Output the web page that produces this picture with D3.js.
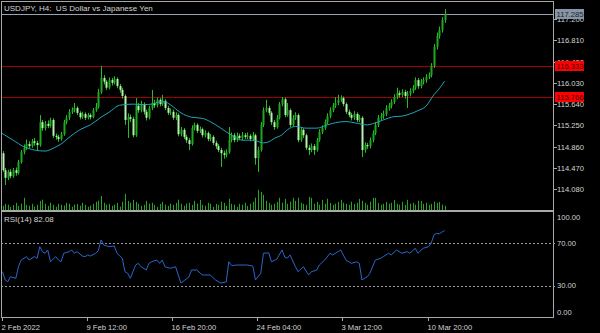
<!DOCTYPE html>
<html>
<head>
<meta charset="utf-8">
<script src="https://cdn.jsdelivr.net/npm/d3@7"></script>
<style>
  html, body { margin: 0; padding: 0; background: #000; }
  svg { display: block; font-family: "Liberation Sans", Arial, sans-serif; }
</style>
</head>
<body>
<svg id="chart" width="600" height="333"></svg>
<script>
// USDJPY H4
const symbolTitle = "USDJPY, H4:  US Dollar vs Japanese Yen";
const rsiTitle = "RSI(14) 82.08";

const firstOpen = 114.74;
const closes = [
  114.43,114.29,114.40,114.32,114.43,114.38,114.58,114.76,114.84,114.91,
  114.87,114.96,114.93,114.89,115.31,115.20,115.28,115.24,115.35,115.06,
  115.04,115.00,115.09,115.31,115.39,115.50,115.53,115.57,115.48,115.40,
  115.46,115.39,115.44,115.40,115.53,115.59,115.86,116.12,116.05,115.94,
  116.08,116.03,116.10,115.97,115.90,115.79,115.35,115.40,115.37,115.07,
  115.61,115.53,115.64,115.50,115.39,115.57,115.66,115.62,115.72,115.64,
  115.70,115.57,115.48,115.50,115.39,115.44,115.09,115.17,115.04,114.98,
  114.91,115.20,115.26,115.15,115.18,115.07,115.11,115.00,115.04,114.93,
  114.87,114.80,114.74,114.71,114.76,114.98,115.07,114.98,115.06,115.02,
  115.07,115.04,115.06,115.00,115.07,114.65,114.80,115.26,115.53,115.57,
  115.48,115.31,115.22,115.39,115.64,115.73,115.44,115.53,115.26,115.39,
  115.44,114.98,115.17,115.07,114.84,114.80,114.87,114.80,114.98,115.13,
  115.20,115.31,115.42,115.53,115.61,115.66,115.72,115.75,115.64,115.50,
  115.44,115.39,115.46,115.35,115.39,114.80,114.89,114.87,114.98,115.11,
  115.26,115.39,115.42,115.46,115.57,115.61,115.68,115.77,115.84,115.81,
  115.86,115.79,115.83,115.88,115.94,116.08,115.97,116.05,116.08,116.14,
  116.17,116.34,116.69,116.89,117.00,117.18,117.285
];
const highs = [
  114.78,114.47,114.44,114.45,114.47,114.48,114.62,114.80,114.90,114.99,
  114.96,115.00,115.02,114.97,115.44,115.35,115.33,115.34,115.39,115.38,
  115.10,115.08,115.13,115.35,115.44,115.55,115.58,115.66,115.60,115.51,
  115.50,115.49,115.48,115.47,115.57,115.66,115.92,116.34,116.17,116.08,
  116.13,116.12,116.15,116.13,116.01,115.94,115.82,115.47,115.45,115.41,
  115.75,115.66,115.70,115.67,115.54,115.61,115.90,115.72,115.76,115.75,
  115.81,115.73,115.61,115.56,115.54,115.49,115.47,115.22,115.20,115.08,
  115.02,115.25,115.30,115.29,115.23,115.21,115.16,115.14,115.09,115.07,
  114.97,114.91,114.84,114.79,114.81,115.22,115.12,115.11,115.12,115.10,
  115.13,115.11,115.12,115.09,115.13,115.10,114.86,115.31,115.58,115.72,
  115.61,115.51,115.35,115.44,115.68,115.77,115.76,115.66,115.56,115.44,
  115.49,115.47,115.22,115.20,115.10,114.89,114.92,114.91,115.02,115.18,
  115.25,115.36,115.47,115.58,115.66,115.77,115.81,115.80,115.78,115.67,
  115.54,115.48,115.51,115.49,115.44,115.42,114.94,114.93,115.03,115.16,
  115.31,115.44,115.48,115.52,115.62,115.66,115.73,115.82,115.94,115.89,
  115.91,115.90,115.88,115.93,115.99,116.13,116.12,116.10,116.13,116.19,
  116.22,116.39,116.74,116.95,117.06,117.23,117.38
];
const lows = [
  114.40,114.16,114.25,114.28,114.29,114.33,114.35,114.55,114.72,114.80,
  114.83,114.84,114.88,114.80,114.86,115.15,115.16,115.20,115.21,115.02,
  114.99,114.95,114.97,115.06,115.27,115.35,115.46,115.49,115.44,115.36,
  115.37,115.35,115.36,115.36,115.38,115.50,115.56,115.83,116.00,115.90,
  115.91,115.98,116.00,115.93,115.85,115.74,115.26,115.02,115.31,115.03,
  115.04,115.48,115.49,115.45,115.34,115.36,115.53,115.57,115.58,115.60,
  115.61,115.53,115.44,115.44,115.35,115.35,115.05,115.05,115.00,114.93,
  114.80,114.88,115.16,115.11,115.11,115.03,115.03,114.96,114.96,114.89,
  114.82,114.76,114.49,114.64,114.66,114.73,114.94,114.94,114.95,114.98,
  114.98,115.00,115.00,114.96,114.97,114.53,114.40,114.77,115.22,115.49,
  115.43,115.26,115.17,115.19,115.36,115.60,115.40,115.41,115.22,115.23,
  115.35,114.94,114.95,115.02,114.80,114.71,114.76,114.71,114.77,114.95,
  115.09,115.17,115.27,115.38,115.49,115.57,115.62,115.68,115.60,115.46,
  115.40,115.34,115.35,115.31,115.31,114.67,114.75,114.82,114.83,114.94,
  115.07,115.22,115.35,115.37,115.42,115.52,115.56,115.64,115.73,115.76,
  115.77,115.74,115.57,115.78,115.84,115.90,115.92,115.93,116.00,116.03,
  116.10,116.13,116.30,116.64,116.84,116.95,117.13
];
// tick volume
const volumes = [
  4200,6100,5300,3100,4800,7200,4100,6300,12200,5100,
  4300,6200,3400,5200,9100,10300,6200,4100,7300,5200,
  3300,6100,5200,4400,7100,6200,3300,5400,6100,4300,
  7200,5100,3200,4300,6100,8200,9300,14100,7200,5300,
  6100,4200,5300,7100,3400,8200,16200,9100,7300,10200,
  8100,6200,4300,5200,9100,6300,7200,5100,3200,6100,
  8200,5300,4100,6300,5200,7100,10300,6200,4100,6300,
  7200,5100,9200,6300,10100,5200,4300,7100,6200,3300,
  6100,5200,8300,7100,4200,11200,6100,5300,3200,6100,
  5300,7200,4100,6300,8200,12300,20200,18100,15200,9300,
  7100,5200,6300,8100,12200,7300,11100,6200,8300,12100,
  9200,12300,7100,6200,5300,13100,12200,6300,8100,5200,
  10100,6300,11200,7100,5200,6300,8100,10200,7300,6100,
  5200,8300,6100,7200,11100,9300,7100,5200,8300,12100,
  12200,7100,5300,6200,8100,6300,7200,10100,6200,5300,
  8200,5100,10200,6300,7100,5200,9300,9100,6200,7300,
  5200,6100,8300,7200,8100,5300,4200
];

// moving average (cyan), sampled at bar indices
const maBars = [-1,4,8,12,16,19,22,25,29,33,37,40,44,49,53,56,59,61,63,67,71,75,78,82,86,90,93,95,98,100,102,105,107,110,114,118,122,125,129,133,137,139,143,147,150,153,156,159,162,164,166];
const maValues = [115.13,114.98,114.86,114.80,114.78,114.83,114.91,115.03,115.17,115.26,115.40,115.49,115.62,115.64,115.63,115.64,115.68,115.68,115.63,115.48,115.40,115.38,115.32,115.20,115.07,114.98,114.98,114.97,114.93,114.95,115.01,115.08,115.17,115.23,115.20,115.20,115.26,115.30,115.32,115.29,115.26,115.28,115.35,115.41,115.42,115.46,115.52,115.60,115.81,115.92,116.06];

// RSI(14), sampled at bar indices
const rsiBars = [0,1,2,3,5,6,7,9,10,12,13,14,15,16,17,18,20,21,22,23,25,26,27,28,30,31,32,33,35,36,37,38,40,42,43,45,46,47,48,50,51,52,54,55,56,58,59,60,61,63,65,67,70,71,73,75,78,80,82,84,85,86,88,91,92,94,95,97,98,100,101,103,105,106,107,108,110,111,113,115,116,118,119,121,123,124,127,129,131,133,134,135,137,138,140,142,143,145,146,148,150,152,153,155,156,158,160,161,162,163,164,165,166];
const rsiValues = [43.2,35.4,33.8,38.5,37.0,47.9,54.2,57.4,54.2,57.4,55.8,66.8,62.1,60.6,63.7,52.6,57.4,54.2,52.6,60.6,62.1,63.7,60.6,62.1,58.0,57.4,59.0,58.0,60.6,63.0,73.1,68.4,66.8,67.5,60.6,55.8,43.2,41.7,37.0,49.5,51.1,47.9,44.8,51.1,52.6,54.2,51.1,54.2,47.9,46.4,47.9,32.5,38.2,44.8,44.8,40.1,40.1,35.4,32.5,33.5,52.6,49.0,49.5,49.5,49.5,48.5,35.4,41.7,60.6,61.0,52.6,55.0,63.7,57.0,56.0,59.0,47.9,43.2,47.9,40.1,43.2,44.8,49.5,54.2,60.6,59.0,63.7,54.2,51.1,52.6,51.1,35.4,38.5,41.7,54.2,55.8,57.4,60.6,59.0,63.7,60.6,62.1,60.6,65.3,60.6,65.3,66.8,70.0,77.8,79.4,78.9,80.5,82.08];

const priceTicks = [114.080, 114.470, 114.860, 115.250, 115.640, 116.030, 116.420, 116.810, 117.200];
const levelLines = [116.333, 115.766];
const lastPrice = 117.285;
const rsiTicks = [100, 70, 30, 0];
const rsiLevels = [70, 30];
const timeBars = [0, 32, 64, 96, 128, 160];
const timeLabels = ["2 Feb 2022", "9 Feb 12:00", "16 Feb 20:00", "24 Feb 04:00", "3 Mar 12:00", "10 Mar 20:00"];

// layout
const plotLeft = 1, plotRight = 553;
const mainTop = 1, mainBottom = 210;
const rsiTop = 212, rsiBottom = 317;
const frameColor = "#a8a8a8";
const textColor = "#d4d4d4";

const svg = d3.select("#chart");

const x = d3.scaleLinear().domain([0, 166]).range([2.5, 444.5]);
const y = d3.scaleLinear().domain([114.08, 117.285]).range([189.3, 14.3]);
const yVol = d3.scaleLinear().domain([0, 30000]).range([mainBottom, mainBottom - 30]);
const yRsi = d3.scaleLinear().domain([0, 100]).range([317.5, 211.5]);

svg.append("rect").attr("width", 600).attr("height", 333).attr("fill", "#000");

const defs = svg.append("defs");
defs.append("clipPath").attr("id", "clipMain").append("rect")
  .attr("x", plotLeft + 0.5).attr("y", mainTop).attr("width", plotRight - plotLeft - 0.5).attr("height", mainBottom - mainTop);
defs.append("clipPath").attr("id", "clipRsi").append("rect")
  .attr("x", plotLeft + 0.5).attr("y", rsiTop).attr("width", plotRight - plotLeft - 0.5).attr("height", rsiBottom - rsiTop);

const bars = closes.map((c, i) => ({
  i: i,
  open: i === 0 ? firstOpen : closes[i - 1],
  close: c,
  high: highs[i],
  low: lows[i],
  volume: volumes[i]
}));

// ---- main panel ----
const main = svg.append("g").attr("clip-path", "url(#clipMain)");

// support / resistance lines
main.selectAll("line.level")
  .data(levelLines)
  .enter().append("line")
  .attr("x1", 0).attr("x2", plotRight)
  .attr("y1", d => Math.round(y(d)) + 0.5).attr("y2", d => Math.round(y(d)) + 0.5)
  .attr("stroke", "#a00000").attr("stroke-width", 1);

// bid line
main.append("line")
  .attr("x1", 0).attr("x2", plotRight)
  .attr("y1", Math.round(y(lastPrice)) + 0.5).attr("y2", Math.round(y(lastPrice)) + 0.5)
  .attr("stroke", "#9aa4b0").attr("stroke-width", 1);

// volumes
main.selectAll("line.vol")
  .data(bars)
  .enter().append("line")
  .attr("x1", d => Math.round(x(d.i)) + 0.5).attr("x2", d => Math.round(x(d.i)) + 0.5)
  .attr("y1", mainBottom).attr("y2", d => yVol(d.volume))
  .attr("stroke", "#26a426").attr("stroke-width", 1);

// candles
const candle = main.selectAll("g.candle")
  .data(bars)
  .enter().append("g");

candle.append("line")
  .attr("x1", d => Math.round(x(d.i)) + 0.5).attr("x2", d => Math.round(x(d.i)) + 0.5)
  .attr("y1", d => y(d.high)).attr("y2", d => y(d.low))
  .attr("stroke", "#22c022").attr("stroke-width", 1);

candle.append("rect")
  .attr("x", d => Math.round(x(d.i)) - 0.5)
  .attr("width", 2)
  .attr("y", d => y(Math.max(d.open, d.close)))
  .attr("height", d => Math.max(1, Math.abs(y(d.open) - y(d.close))))
  .attr("fill", d => d.close >= d.open ? "#1fa81f" : "#b4f4aa");

// moving average
const maPts = maBars.map((b, k) => [b, maValues[k]]);
main.append("path")
  .datum(maPts)
  .attr("d", d3.line().x(d => x(d[0])).y(d => y(d[1])).curve(d3.curveMonotoneX))
  .attr("fill", "none").attr("stroke", "#1fa6b6").attr("stroke-width", 1);

// title
svg.append("text")
  .attr("x", 4).attr("y", 11)
  .attr("fill", textColor).attr("font-size", 8)
  .style("white-space", "pre")
  .text(symbolTitle);

// ---- RSI panel ----
const rsiG = svg.append("g").attr("clip-path", "url(#clipRsi)");

rsiG.selectAll("line.lvl")
  .data(rsiLevels)
  .enter().append("line")
  .attr("x1", plotLeft).attr("x2", plotRight)
  .attr("y1", d => Math.round(yRsi(d)) + 0.5).attr("y2", d => Math.round(yRsi(d)) + 0.5)
  .attr("stroke", "#9a9a9a").attr("stroke-dasharray", "2,2");

const rsiPts = rsiBars.map((b, k) => [b, rsiValues[k]]);
rsiG.append("path")
  .datum(rsiPts)
  .attr("d", d3.line().x(d => x(d[0])).y(d => yRsi(d[1])))
  .attr("fill", "none").attr("stroke", "#2a66cc").attr("stroke-width", 1);

svg.append("text")
  .attr("x", 4).attr("y", 222)
  .attr("fill", textColor).attr("font-size", 8)
  .text(rsiTitle);

// ---- frames ----
svg.append("line").attr("x1", plotLeft + 0.5).attr("x2", plotLeft + 0.5).attr("y1", mainTop).attr("y2", rsiBottom)
  .attr("stroke", frameColor);
svg.append("line").attr("x1", plotRight + 0.5).attr("x2", plotRight + 0.5).attr("y1", mainTop).attr("y2", rsiBottom + 0.5)
  .attr("stroke", frameColor);
svg.append("line").attr("x1", plotLeft).attr("x2", plotRight + 1).attr("y1", mainTop + 0.5).attr("y2", mainTop + 0.5)
  .attr("stroke", frameColor);
svg.append("rect").attr("x", plotLeft).attr("y", mainBottom).attr("width", plotRight - plotLeft + 1).attr("height", 2)
  .attr("fill", frameColor);
svg.append("line").attr("x1", plotLeft).attr("x2", plotRight + 1).attr("y1", rsiBottom + 0.5).attr("y2", rsiBottom + 0.5)
  .attr("stroke", frameColor);

// ---- price axis ----
const axisG = svg.append("g");
priceTicks.forEach(v => {
  const py = Math.round(y(v)) + 0.5;
  axisG.append("line").attr("x1", plotRight).attr("x2", plotRight + 4).attr("y1", py).attr("y2", py).attr("stroke", frameColor);
  axisG.append("text").attr("x", plotRight + 4).attr("y", py).attr("dy", "0.35em")
    .attr("fill", textColor).attr("font-size", 7.6).text(v.toFixed(3));
});

// price boxes (drawn over the tick labels they cover, as in the terminal)
function priceBox(v, bg, fg) {
  const py = Math.round(y(v));
  axisG.append("rect").attr("x", plotRight + 2).attr("y", py - 5).attr("width", 29).attr("height", 10).attr("fill", bg);
  axisG.append("text").attr("x", plotRight + 3.5).attr("y", py).attr("dy", "0.36em")
    .attr("fill", fg).attr("font-size", 7.6).text(v.toFixed(3));
}
priceBox(lastPrice, "#8796a6", "#1c2430");
levelLines.forEach(v => priceBox(v, "#ff0000", "#3a0000"));

// RSI axis
rsiTicks.forEach(v => {
  const ry = Math.min(Math.max(yRsi(v), rsiTop + 5), rsiBottom - 5);
  if (v !== 0 && v !== 100) {
    axisG.append("line").attr("x1", plotRight).attr("x2", plotRight + 4)
      .attr("y1", Math.round(yRsi(v)) + 0.5).attr("y2", Math.round(yRsi(v)) + 0.5)
      .attr("stroke", "#9a9a9a").attr("stroke-dasharray", "2,2");
  }
  axisG.append("text").attr("x", plotRight + 4).attr("y", ry).attr("dy", "0.35em")
    .attr("fill", textColor).attr("font-size", 7.6).text(v.toFixed(2));
});

// ---- time axis ----
timeBars.forEach((b, k) => {
  const tx = Math.round(x(b)) - 0.5;
  axisG.append("line").attr("x1", tx).attr("x2", tx).attr("y1", rsiBottom).attr("y2", rsiBottom + 4).attr("stroke", frameColor);
  axisG.append("text").attr("x", Math.max(1, tx - 1)).attr("y", 330)
    .attr("fill", textColor).attr("font-size", 7.6).text(timeLabels[k]);
});
</script>
</body>
</html>
